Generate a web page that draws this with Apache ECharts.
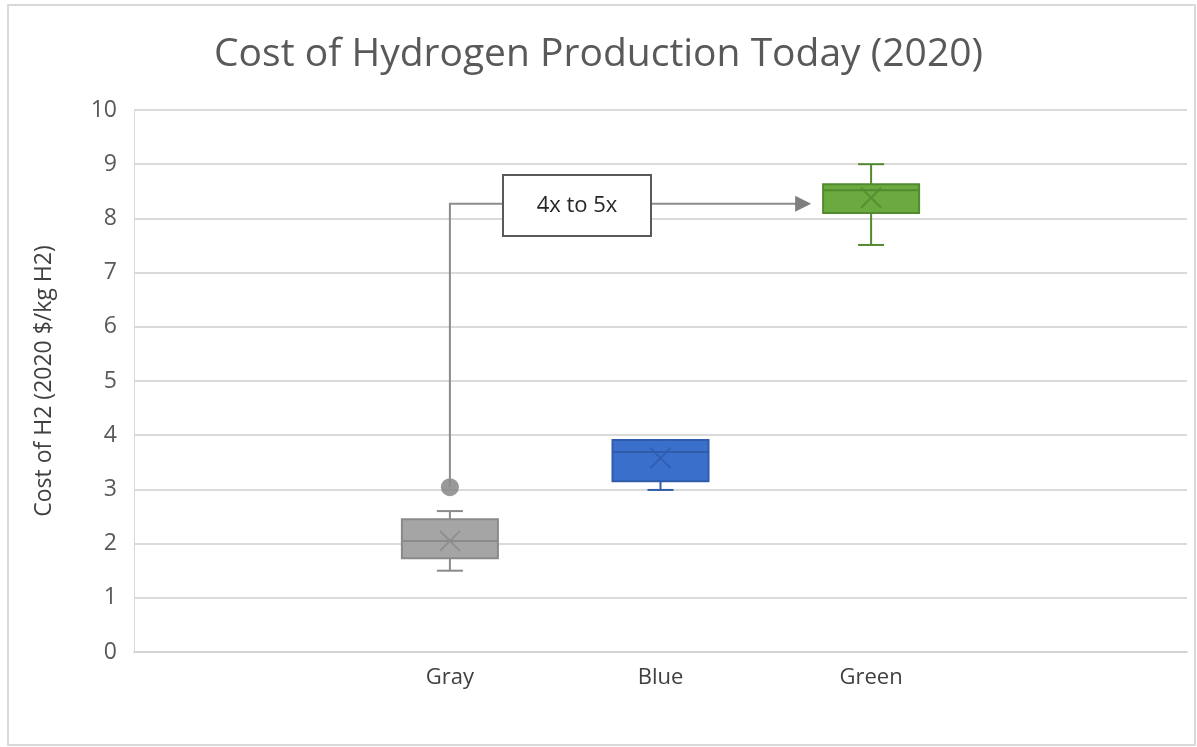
<!DOCTYPE html>
<html>
<head>
<meta charset="utf-8">
<script src="https://cdn.jsdelivr.net/npm/echarts@6/dist/echarts.min.js"></script>
<style>
  html, body { margin: 0; padding: 0; background: #fff; }
  #main { width: 1197px; height: 747px; }
</style>
</head>
<body>
<div id="main"></div>
<script>
  // data
  var categories = ['', 'Gray', 'Blue', 'Green', ''];
  var boxColors = ['#a5a5a5', '#3a70cc', '#6aaa3e'];
  var edgeColors = ['#8a8a8a', '#2f5cab', '#538a30'];
  // [min, Q1, median, Q3, max]
  var grayBox = [1.5, 1.73, 2.05, 2.45, 2.6];
  var blueBox = [2.99, 3.15, 3.69, 3.91, 3.91];
  var greenBox = [7.51, 8.1, 8.52, 8.63, 9.0];
  var means = [2.05, 3.58, 8.38];
  var grayOutlier = 3.04;
  var arrowLevel = 8.27;
  var yTicks = [0, 1, 2, 3, 4, 5, 6, 7, 8, 9, 10];

  var myChart = echarts.init(document.getElementById('main'));

  var boxes = [grayBox, blueBox, greenBox];
  var boxData = boxes.map(function (b, i) {
    return [i + 1].concat(b).concat([i]);
  });
  var meanData = means.map(function (m, i) {
    return { value: [categories[i + 1], m], itemStyle: { color: 'none', borderColor: edgeColors[i] } };
  });

  var xPath = 'path://M0,0 L10,10 M10,0 L0,10';

  // box and whisker drawn from the axis scales
  function renderBox(params, api) {
    var x = api.value(0);
    var ci = api.value(6);
    var pMin = api.coord([x, api.value(1)]);
    var pQ1 = api.coord([x, api.value(2)]);
    var pMed = api.coord([x, api.value(3)]);
    var pQ3 = api.coord([x, api.value(4)]);
    var pMax = api.coord([x, api.value(5)]);
    var cx = pQ1[0], half = 48, cap = 13;
    var line = { stroke: edgeColors[ci], lineWidth: 2 };
    var kids = [];
    if (pMax[1] < pQ3[1] - 1) {
      kids.push({ type: 'line', shape: { x1: cx, y1: pQ3[1], x2: cx, y2: pMax[1] }, style: line });
      kids.push({ type: 'line', shape: { x1: cx - cap, y1: pMax[1], x2: cx + cap, y2: pMax[1] }, style: line });
    }
    kids.push({ type: 'line', shape: { x1: cx, y1: pQ1[1], x2: cx, y2: pMin[1] }, style: line });
    kids.push({ type: 'line', shape: { x1: cx - cap, y1: pMin[1], x2: cx + cap, y2: pMin[1] }, style: line });
    kids.push({
      type: 'rect',
      shape: { x: cx - half, y: pQ3[1], width: half * 2, height: pQ1[1] - pQ3[1] },
      style: { fill: boxColors[ci], stroke: edgeColors[ci], lineWidth: 2 }
    });
    kids.push({ type: 'line', shape: { x1: cx - half, y1: pMed[1], x2: cx + half, y2: pMed[1] }, style: line });
    return { type: 'group', children: kids };
  }

  var option = {
    animation: false,
    backgroundColor: '#fff',
    title: {
      text: 'Cost of Hydrogen Production Today (2020)',
      left: 'center',
      top: 30,
      textStyle: { fontFamily: 'Open Sans', fontSize: 39, fontWeight: 'normal', color: '#595959' }
    },
    grid: { left: 134, right: 10, top: 110, bottom: 95 },
    xAxis: {
      type: 'category',
      data: categories,
      axisLine: { lineStyle: { color: '#d4d4d4', width: 2 } },
      axisTick: { show: false },
      axisLabel: { fontFamily: 'Open Sans', fontSize: 22, color: '#404040', margin: 15 },
      splitLine: { show: false }
    },
    yAxis: {
      type: 'value',
      min: yTicks[0],
      max: yTicks[yTicks.length - 1],
      interval: 1,
      name: 'Cost of H2 (2020 $/kg H2)',
      nameLocation: 'middle',
      nameGap: 78,
      nameTextStyle: { fontFamily: 'Open Sans', fontSize: 23, color: '#404040' },
      axisLine: { show: true, lineStyle: { color: '#d9d9d9', width: 1 } },
      axisTick: { show: false },
      axisLabel: { fontFamily: 'Open Sans', fontSize: 23, color: '#595959', margin: 17 },
      splitLine: { lineStyle: { color: '#dadada', width: 2 } }
    },
    series: [
      {
        type: 'custom',
        renderItem: renderBox,
        data: boxData,
        encode: { x: 0, y: [1, 2, 3, 4, 5] },
        z: 3
      },
      {
        type: 'scatter',
        data: meanData,
        symbol: xPath,
        symbolSize: 20,
        itemStyle: { borderWidth: 2 },
        z: 5
      },
      {
        type: 'scatter',
        data: [[categories[1], grayOutlier]],
        symbol: 'circle',
        symbolSize: 18,
        itemStyle: { color: '#7f7f7f' },
        z: 5
      }
    ]
  };

  myChart.setOption(option);

  // connector annotation from the gray outlier to the green box
  var pOut = myChart.convertToPixel({ seriesIndex: 2 }, [categories[1], grayOutlier]);
  var pArrow = myChart.convertToPixel({ seriesIndex: 2 }, [categories[1], arrowLevel]);
  var pGreen = myChart.convertToPixel({ seriesIndex: 2 }, [categories[3], arrowLevel]);
  var ax = pOut[0], yTop = pArrow[1], xEnd = pGreen[0] - 62;
  var boxL = 503, boxR = 651, boxT = 175, boxB = 236;

  myChart.setOption({
    graphic: [
      {
        type: 'rect',
        shape: { x: 8, y: 5, width: 1187, height: 740 },
        style: { fill: 'none', stroke: '#d9d9d9', lineWidth: 2 },
        silent: true
      },
      {
        type: 'polyline',
        shape: { points: [[ax, pOut[1]], [ax, yTop], [boxL, yTop]] },
        style: { stroke: '#8c8c8c', lineWidth: 2, fill: 'none' },
        z: 10
      },
      {
        type: 'line',
        shape: { x1: boxR, y1: yTop, x2: xEnd - 12, y2: yTop },
        style: { stroke: '#8c8c8c', lineWidth: 2 },
        z: 10
      },
      {
        type: 'polygon',
        shape: { points: [[xEnd - 14, yTop - 8], [xEnd + 2, yTop], [xEnd - 14, yTop + 8]] },
        style: { fill: '#7f7f7f' },
        z: 10
      },
      {
        type: 'rect',
        shape: { x: boxL, y: boxT, width: boxR - boxL, height: boxB - boxT },
        style: { fill: '#fff', stroke: '#595959', lineWidth: 2 },
        z: 10
      },
      {
        type: 'text',
        x: (boxL + boxR) / 2,
        y: (boxT + boxB) / 2,
        style: {
          text: '4x to 5x',
          fontFamily: 'Open Sans',
          fontSize: 22,
          fill: '#262626',
          align: 'center',
          verticalAlign: 'middle'
        },
        z: 11
      }
    ]
  });
</script>
</body>
</html>
